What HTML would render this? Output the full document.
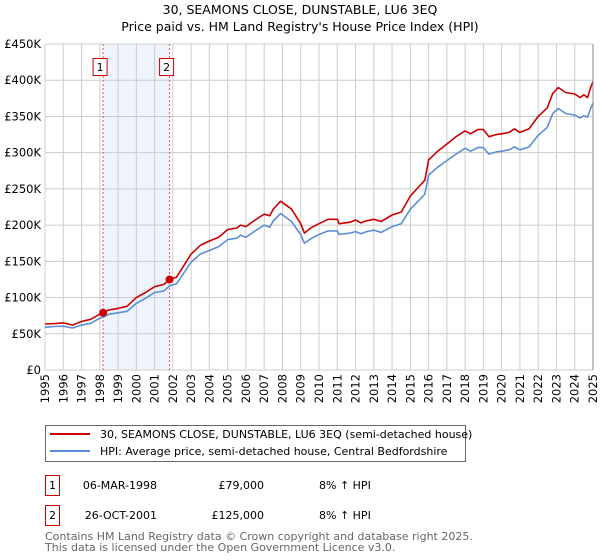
<!DOCTYPE html>
<html><head><meta charset="utf-8"><style>
body{margin:0;background:#fff;font-family:"DejaVu Sans","Liberation Sans",sans-serif;}
svg{display:block}
</style></head><body>
<svg width="600" height="560" xmlns="http://www.w3.org/2000/svg" font-family="DejaVu Sans, Liberation Sans, sans-serif">
<text x="300" y="14" text-anchor="middle" font-size="12.5">30, SEAMONS CLOSE, DUNSTABLE, LU6 3EQ</text>
<text x="300" y="31" text-anchor="middle" font-size="12.5">Price paid vs. HM Land Registry's House Price Index (HPI)</text>
<g id="plot"></g>
<g>
<rect x="45.5" y="425.5" width="420" height="36" fill="#fff" stroke="#666"/>
<line x1="50" y1="434" x2="90" y2="434" stroke="#cc0000" stroke-width="2"/>
<text x="100" y="438" font-size="11">30, SEAMONS CLOSE, DUNSTABLE, LU6 3EQ (semi-detached house)</text>
<line x1="50" y1="451" x2="90" y2="451" stroke="#5b8ed6" stroke-width="2"/>
<text x="100" y="455" font-size="11">HPI: Average price, semi-detached house, Central Bedfordshire</text>
</g>
<g font-size="11">
<rect x="45.5" y="475.5" width="14" height="20" fill="#fff" stroke="#cc0000"/>
<text x="52.5" y="489" text-anchor="middle">1</text>
<text x="157" y="489" text-anchor="end">06-MAR-1998</text>
<text x="264" y="489" text-anchor="end">£79,000</text>
<text x="319" y="489">8% ↑ HPI</text>
<rect x="45.5" y="505.5" width="14" height="20" fill="#fff" stroke="#cc0000"/>
<text x="52.5" y="519" text-anchor="middle">2</text>
<text x="157" y="519" text-anchor="end">26-OCT-2001</text>
<text x="264" y="519" text-anchor="end">£125,000</text>
<text x="319" y="519">8% ↑ HPI</text>
</g>
<text x="45" y="540" font-size="11" fill="#666">Contains HM Land Registry data © Crown copyright and database right 2025.</text>
<text x="45" y="551" font-size="11" fill="#666">This data is licensed under the Open Government Licence v3.0.</text>
</svg>
<script>
const dates=[1995.0,1995.5,1996.0,1996.5,1997.0,1997.5,1998.0,1998.18,1998.5,1999.0,1999.5,2000.0,2000.5,2001.0,2001.5,2001.82,2002.2,2002.5,2003.0,2003.5,2004.0,2004.5,2005.0,2005.5,2005.7,2006.0,2006.5,2007.0,2007.3,2007.5,2007.9,2008.5,2009.0,2009.2,2009.6,2010.0,2010.5,2011.0,2011.1,2011.7,2012.0,2012.3,2012.6,2013.0,2013.4,2014.0,2014.5,2015.0,2015.5,2015.8,2016.0,2016.5,2017.0,2017.5,2018.0,2018.3,2018.7,2019.0,2019.3,2019.7,2020.0,2020.4,2020.7,2021.0,2021.5,2022.0,2022.5,2022.8,2023.1,2023.5,2024.0,2024.3,2024.5,2024.7,2024.9,2025.0];
const propertyValues=[63.5,64,65,62,67,70,77,79,83,85,88,100,107,115,118,125,128,140,160,172,178,183,194,196,200,198,207,215,213,222,233,222,202,189,197,202,208,208,202,204,207,203,206,208,205,214,218,240,254,262,290,302,312,322,330,326,332,332,322,325,326,328,333,328,333,350,362,382,390,383,381,376,380,376,392,398];
const hpiValues=[59,60,60.5,58,62,64.5,71.5,73,77,79,81,92,99,107,109,116,119,130,149,160,165,170,180,182,186,183,192,200,197,206,216,205,187,175,182,187,192,192,187,189,191,188,191,193,190,198,202,222,235,243,269,280,289,298,306,302,307,307,298,301,302,304,308,304,308,324,335,354,361,354,352,348,351,349,363,368];
const saleDates=[1998.18,2001.82];
const salePrices=[79,125];
const saleLabels=["1","2"];
const yTicks=[0,50,100,150,200,250,300,350,400,450];
const yTickLabels=["£0","£50K","£100K","£150K","£200K","£250K","£300K","£350K","£400K","£450K"];
const xTicks=[1995,1996,1997,1998,1999,2000,2001,2002,2003,2004,2005,2006,2007,2008,2009,2010,2011,2012,2013,2014,2015,2016,2017,2018,2019,2020,2021,2022,2023,2024,2025];

const X0=45,X1=593,Y0=370,Y1=44;
const xs=t=>X0+(t-1995)/30*(X1-X0);
const ys=v=>Y0-v/450*(Y0-Y1);
const NS="http://www.w3.org/2000/svg";
const g=document.getElementById('plot');
function mk(tag,attrs,parent){const e=document.createElementNS(NS,tag);for(const k in attrs)e.setAttribute(k,attrs[k]);(parent||g).appendChild(e);return e;}

const shade=mk('rect',{x:xs(saleDates[0]),y:Y1,width:xs(saleDates[1])-xs(saleDates[0]),height:Y0-Y1,fill:'#eef3fc'});



xTicks.forEach(t=>{
  const l=mk('line',{x1:xs(t),x2:xs(t),y1:Y1,y2:Y0,stroke:'#cccccc','stroke-width':1});
  
  
  const tx=mk('text',{x:0,y:0,'font-size':11.5,'text-anchor':'end',transform:`translate(${xs(t)+4},${Y0+4}) rotate(-90)`});
  tx.textContent=t;
  
  
});
yTicks.forEach((v,i)=>{
  const l=mk('line',{x1:X0,x2:X1,y1:ys(v),y2:ys(v),stroke:'#cccccc','stroke-width':1});
  
  
  const tx=mk('text',{x:X0-4,y:ys(v)+4,'font-size':11.5,'text-anchor':'end'});
  tx.textContent=yTickLabels[i];
  
  
});

saleDates.forEach((d,i)=>{
  const l=mk('line',{x1:xs(d),x2:xs(d),y1:Y1,y2:Y0,stroke:'#ee5555','stroke-width':1,'stroke-dasharray':'2,2'});
  
  
  const r=mk('rect',{x:xs(d)-10,y:58.5,width:14,height:17,fill:'#fff',stroke:'#cc0000'});
  
  
  const tx=mk('text',{x:xs(d)-3,y:71,'font-size':11,'text-anchor':'middle'});
  tx.textContent=saleLabels[i];
  
  
});

function pathFor(vals){return vals.map((v,i)=>(i?'L':'M')+xs(dates[i]).toFixed(1)+','+ys(v).toFixed(1)).join('');}
const hp=mk('path',{d:pathFor(hpiValues),fill:'none',stroke:'#5b8ed6','stroke-width':1.6,'stroke-linejoin':'round'});


const pp=mk('path',{d:pathFor(propertyValues),fill:'none',stroke:'#cc0000','stroke-width':1.6,'stroke-linejoin':'round'});



saleDates.forEach((d,i)=>{
  const c=mk('circle',{cx:xs(d),cy:ys(salePrices[i]),r:4,fill:'#cc0000'});
  
  
});
const ax=mk('line',{x1:X1,x2:X1,y1:Y1,y2:Y0,stroke:'#888','stroke-width':1});


</script>
</body></html>
